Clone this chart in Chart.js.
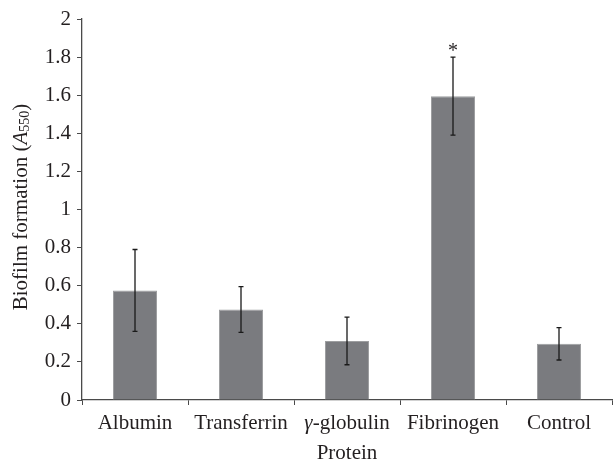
<!DOCTYPE html>
<html>
<head>
<meta charset="utf-8">
<script src="https://cdn.jsdelivr.net/npm/chart.js@4"></script>
<style>
html,body{margin:0;padding:0;background:#fff;}
#wrap{width:613px;height:464px;position:relative;}
</style>
</head>
<body>
<div id="wrap"><canvas id="c" width="613" height="464"></canvas></div>
<script>
const categories = ['Albumin', 'Transferrin', 'γ-globulin', 'Fibrinogen', 'Control'];
const means = [0.575, 0.475, 0.31, 1.595, 0.295];
const errors = [0.215, 0.12, 0.125, 0.205, 0.085];
const marks = ['', '', '', '*', ''];
const yTicks = [0, 0.2, 0.4, 0.6, 0.8, 1, 1.2, 1.4, 1.6, 1.8, 2];

const FONT = "'Liberation Serif', 'Times New Roman', serif";
const FS = 21;
const TEXT = '#231f20';
const AXIS = '#4a4a4a';

const errorBars = {
  id: 'errorBars',
  afterDatasetsDraw(chart) {
    const ctx = chart.ctx;
    const y = chart.scales.y;
    const meta = chart.getDatasetMeta(0);
    ctx.save();
    ctx.strokeStyle = '#1a1a1a';
    ctx.lineWidth = 1.3;
    meta.data.forEach((bar, i) => {
      const x = bar.x;
      const top = y.getPixelForValue(means[i] + errors[i]);
      const bot = y.getPixelForValue(means[i] - errors[i]);
      ctx.beginPath();
      ctx.moveTo(x, top); ctx.lineTo(x, bot);
      ctx.moveTo(x - 2.5, top); ctx.lineTo(x + 2.5, top);
      ctx.moveTo(x - 2.5, bot); ctx.lineTo(x + 2.5, bot);
      ctx.stroke();
      if (marks[i]) {
        ctx.fillStyle = TEXT;
        ctx.font = "20px " + FONT;
        ctx.textAlign = 'center';
        ctx.textBaseline = 'alphabetic';
        ctx.fillText(marks[i], x, top);
      }
    });
    ctx.restore();
  }
};

// category labels (γ drawn italic), positioned from the x scale's ticks
const xLabels = {
  id: 'xLabels',
  afterDraw(chart) {
    const ctx = chart.ctx;
    const xs = chart.scales.x;
    ctx.save();
    ctx.fillStyle = TEXT;
    ctx.textBaseline = 'alphabetic';
    ctx.textAlign = 'left';
    const base = xs.top + 29;
    categories.forEach((lab, i) => {
      const cx = xs.getPixelForTick(i);
      let parts;
      if (lab.startsWith('γ')) {
        parts = [{t: 'γ', f: 'italic ' + FS + 'px ' + FONT}, {t: lab.slice(1), f: FS + 'px ' + FONT}];
      } else {
        parts = [{t: lab, f: FS + 'px ' + FONT}];
      }
      let total = 0;
      parts.forEach(p => { ctx.font = p.f; p.w = ctx.measureText(p.t).width; total += p.w; });
      let x = cx - total / 2;
      parts.forEach(p => { ctx.font = p.f; ctx.fillText(p.t, x, base); x += p.w; });
    });
    ctx.restore();
  }
};

const yTitle = {
  id: 'yTitle',
  afterDraw(chart) {
    const ctx = chart.ctx;
    ctx.save();
    ctx.translate(21, 207);
    ctx.rotate(-Math.PI / 2);
    ctx.fillStyle = TEXT;
    ctx.textBaseline = 'middle';
    const parts = [
      {t: 'Biofilm formation (', f: FS + 'px ' + FONT, dy: 0},
      {t: 'A', f: 'italic ' + FS + 'px ' + FONT, dy: 0},
      {t: '550', f: '14px ' + FONT, dy: 4},
      {t: ')', f: FS + 'px ' + FONT, dy: 0}
    ];
    let total = 0;
    parts.forEach(p => { ctx.font = p.f; p.w = ctx.measureText(p.t).width; total += p.w; });
    let x = -total / 2;
    ctx.textAlign = 'left';
    parts.forEach(p => { ctx.font = p.f; ctx.fillText(p.t, x, p.dy); x += p.w; });
    ctx.restore();
  }
};

new Chart(document.getElementById('c'), {
  type: 'bar',
  data: {
    labels: categories,
    datasets: [{
      data: means,
      backgroundColor: '#7a7b7f',
      borderColor: '#9d9ea0',
      borderWidth: 1,
      barPercentage: 0.83,
      categoryPercentage: 0.5
    }]
  },
  options: {
    responsive: false,
    animation: false,
    layout: {padding: {top: 19, right: 1, left: 0, bottom: 0}},
    plugins: {legend: {display: false}, tooltip: {enabled: false}},
    scales: {
      x: {
        offset: true,
        grid: {offset: true, drawOnChartArea: false, drawTicks: true, tickLength: 5, color: AXIS, lineWidth: 1},
        border: {display: true, color: AXIS, width: 1.3},
        ticks: {color: 'rgba(0,0,0,0)', font: {family: FONT, size: FS}, padding: 4, maxRotation: 0, autoSkip: false},
        title: {display: true, text: 'Protein', color: TEXT, font: {family: FONT, size: FS}, padding: {top: 0, bottom: -2}},
        afterFit(s) { s.height = 64; }
      },
      y: {
        min: 0, max: 2,
        afterBuildTicks(s) { s.ticks = yTicks.map(v => ({value: v})); },
        grid: {drawOnChartArea: false, drawTicks: true, tickLength: 5, color: AXIS},
        border: {display: true, color: AXIS, width: 1.3},
        ticks: {color: TEXT, font: {family: FONT, size: FS}, padding: 6, callback: v => String(v)},
        afterFit(s) { s.width = 82; }
      }
    }
  },
  plugins: [errorBars, xLabels, yTitle]
});
</script>
</body>
</html>
